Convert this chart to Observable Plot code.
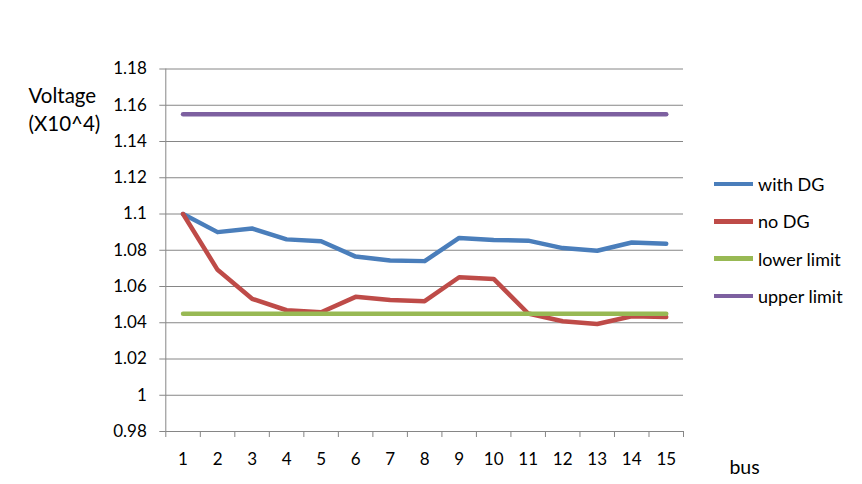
<!DOCTYPE html>
<html><head><meta charset="utf-8">
<script src="https://cdn.jsdelivr.net/npm/d3@7"></script>
<script src="https://cdn.jsdelivr.net/npm/@observablehq/plot@0.6"></script>
<style>
body{margin:0;background:#fff;}
#wrap{position:relative;width:862px;height:484px;font-family:Lato, sans-serif;color:#000;}
#legend{position:absolute;left:714px;top:165.5px;}
.item{display:flex;align-items:center;height:37.3px;font-size:18px;white-space:nowrap;}
.sw{width:39px;height:4.5px;margin-right:5px;}
</style></head><body><div id="wrap"></div>
<script>
const buses = [1, 2, 3, 4, 5, 6, 7, 8, 9, 10, 11, 12, 13, 14, 15];
const withDG = [1.100, 1.090, 1.092, 1.086, 1.085, 1.0765, 1.0743, 1.074, 1.0868, 1.0857, 1.0853, 1.0812, 1.0797, 1.0843, 1.0836];
const noDG = [1.100, 1.0692, 1.0532, 1.0469, 1.0458, 1.0543, 1.0525, 1.0519, 1.0651, 1.0642, 1.0451, 1.0408, 1.0393, 1.0436, 1.0432];
const lowerLimit = [1.045, 1.045, 1.045, 1.045, 1.045, 1.045, 1.045, 1.045, 1.045, 1.045, 1.045, 1.045, 1.045, 1.045, 1.045];
const upperLimit = [1.155, 1.155, 1.155, 1.155, 1.155, 1.155, 1.155, 1.155, 1.155, 1.155, 1.155, 1.155, 1.155, 1.155, 1.155];
const seriesNames = ["with DG", "no DG", "lower limit", "upper limit"];
const seriesColors = ["#4A7EBB", "#BE4B48", "#98B954", "#7D60A0"];
const yTicks = [0.98, 1, 1.02, 1.04, 1.06, 1.08, 1.1, 1.12, 1.14, 1.16, 1.18];
const yTickLabels = ["0.98", "1", "1.02", "1.04", "1.06", "1.08", "1.1", "1.12", "1.14", "1.16", "1.18"];
const yLabel = "Voltage\n(X10^4)";
const xLabel = "bus";

const seriesValues = [withDG, noDG, lowerLimit, upperLimit];
const rows = [];
seriesNames.forEach((name, s) => {
  buses.forEach((b, i) => rows.push({series: name, bus: b, v: seriesValues[s][i]}));
});
const boundaries = buses.map(b => b - 0.5).concat([buses[buses.length - 1] + 0.5]);

const chart = Plot.plot({
  width: 862,
  height: 484,
  marginTop: 68.5,
  marginBottom: 53,
  marginLeft: 165.3,
  marginRight: 179,
  x: {type: "linear", domain: [boundaries[0], boundaries[boundaries.length - 1]]},
  y: {domain: [yTicks[0], yTicks[yTicks.length - 1]]},
  color: {domain: seriesNames, range: seriesColors},
  style: {fontFamily: "Lato, sans-serif", fontSize: "17px", color: "#000", background: "#fff"},
  marks: [
    Plot.gridY(yTicks, {stroke: "#868686", strokeOpacity: 1}),
    Plot.ruleX([boundaries[0]], {stroke: "#868686"}),
    Plot.axisY(yTicks, {tickSize: 6, tickPadding: 13, stroke: "#868686", fill: "#000",
      tickFormat: d => yTickLabels[yTicks.indexOf(d)], label: null}),
    Plot.axisX(boundaries, {tickSize: 6, stroke: "#868686", tickFormat: () => "", label: null}),
    Plot.axisX(buses, {tickSize: 0, tickPadding: 21, fill: "#000", tickFormat: d => String(d), label: null}),
    Plot.lineY(rows, {x: "bus", y: "v", z: "series", stroke: "series", strokeWidth: 4.5, strokeLinejoin: "round"}),
    Plot.text([yLabel], {frameAnchor: "top-left", dx: -137.3, dy: 39, textAnchor: "start", lineAnchor: "middle",
      lineHeight: 1.35, fontSize: 20.5, fill: "#000"}),
    Plot.text([xLabel], {frameAnchor: "bottom-right", dx: 61, dy: 36, textAnchor: "middle", lineAnchor: "middle",
      fontSize: 19.5, fill: "#000"})
  ]
});

const wrap = document.getElementById("wrap");
wrap.appendChild(chart);
const legend = document.createElement("div");
legend.id = "legend";
seriesNames.forEach((name, i) => {
  const item = document.createElement("div");
  item.className = "item";
  const sw = document.createElement("div");
  sw.className = "sw";
  sw.style.background = seriesColors[i];
  const label = document.createElement("span");
  label.textContent = name;
  item.appendChild(sw);
  item.appendChild(label);
  legend.appendChild(item);
});
wrap.appendChild(legend);
</script>
</body></html>
